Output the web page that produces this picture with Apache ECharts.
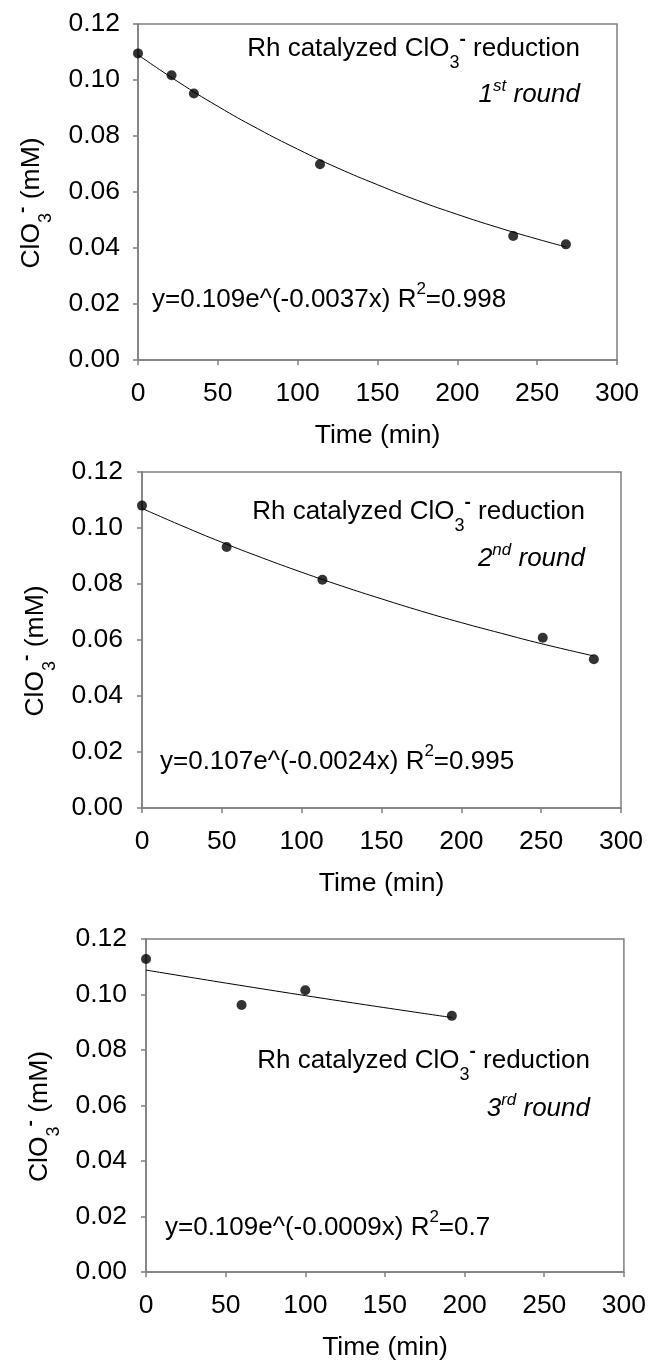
<!DOCTYPE html>
<html><head><meta charset="utf-8">
<script src="https://cdn.jsdelivr.net/npm/echarts@6/dist/echarts.min.js"></script>
<style>html,body{margin:0;padding:0;background:#fff}#c{width:649px;height:1362px}</style>
</head><body><div id="c"></div>
<script>
// ---- data ----
const round1Time = [0, 21, 35, 114, 235, 268];
const round1ClO3 = [0.1095, 0.1017, 0.0952, 0.0699, 0.0443, 0.0413];
const round1FitTime = [0, 25, 50, 75, 100, 125, 150, 175, 200, 225, 250, 268];
const round1FitClO3 = [0.1090, 0.0994, 0.0906, 0.0826, 0.0753, 0.0686, 0.0626, 0.0570, 0.0520, 0.0474, 0.0432, 0.0404];

const round2Time = [0, 53, 113, 251, 283];
const round2ClO3 = [0.1080, 0.0932, 0.0815, 0.0608, 0.0531];
const round2FitTime = [0, 25, 50, 75, 100, 125, 150, 175, 200, 225, 250, 283];
const round2FitClO3 = [0.1070, 0.1008, 0.0949, 0.0894, 0.0842, 0.0793, 0.0747, 0.0703, 0.0662, 0.0624, 0.0587, 0.0543];

const round3Time = [0, 60, 100, 192];
const round3ClO3 = [0.1128, 0.0962, 0.1015, 0.0923];
const round3FitTime = [0, 100, 192];
const round3FitClO3 = [0.1088, 0.0996, 0.0917];

const roundNumbers = ['1', '2', '3'];
const roundSuffixes = ['st', 'nd', 'rd'];
const fitA = ['0.109', '0.107', '0.109'];
const fitK = ['-0.0037', '-0.0024', '-0.0009'];
const fitR2 = ['0.998', '0.995', '0.7'];

const xMin = 0, xMax = 300, xStep = 50;
const yMin = 0, yMax = 0.12, yStep = 0.02;
const xTitle = 'Time (min)';

// ---- styling ----
const FF = '"Liberation Sans", Arial, Helvetica, sans-serif';
const AX = '#7f7f7f';
const FS = 26.5;
const RICH = {
  n:   {fontSize: 26, fontFamily: FF, color: '#000', fill: '#000', lineHeight: 30},
  i:   {fontSize: 26, fontFamily: FF, fontStyle: 'italic', color: '#000', fill: '#000', lineHeight: 30},
  sub: {fontSize: 18, fontFamily: FF, color: '#000', fill: '#000', lineHeight: 18, padding: [28, 0, 0, 0]},
  sup: {fontSize: 19, fontFamily: FF, fontWeight: 'bold', color: '#000', fill: '#000', lineHeight: 19, padding: [0, 0, 18, 0]},
  isup:{fontSize: 17, fontFamily: FF, fontStyle: 'italic', color: '#000', fill: '#000', lineHeight: 17, padding: [0, 0, 18, 0]},
  esup:{fontSize: 17, fontFamily: FF, color: '#000', fill: '#000', lineHeight: 17, padding: [0, 0, 22, 0]}
};
const RICH_AX = {
  n:   {fontSize: FS, fontFamily: FF, color: '#000', lineHeight: 30},
  sub: {fontSize: 18, fontFamily: FF, color: '#000', lineHeight: 18, padding: [28, 0, 0, 0]},
  sup: {fontSize: 19, fontFamily: FF, fontWeight: 'bold', color: '#000', lineHeight: 19, padding: [0, 0, 18, 0]}
};

const grids = [
  {left: 138, top: 24, width: 479, height: 336},
  {left: 142, top: 472, width: 479, height: 336},
  {left: 146, top: 939, width: 479, height: 336}
];
const yLabelMargin = [18, 19, 19];
const titlePos = [[580, 49, 95], [585, 512, 559], [590, 1061, 1109]];
const eqPos = [[152, 300], [160, 762], [165, 1228]];

const xAxes = grids.map((g, i) => ({
  type: 'value', gridIndex: i, min: xMin, max: xMax, interval: xStep,
  name: xTitle, nameLocation: 'middle', nameGap: 62,
  nameTextStyle: {fontSize: FS, fontFamily: FF, color: '#000'},
  axisLine: {show: true, onZero: false, lineStyle: {color: AX, width: 1.5}},
  axisTick: {show: true, inside: false, length: 5, lineStyle: {color: AX, width: 1.5}},
  axisLabel: {fontSize: FS, fontFamily: FF, color: '#000', margin: 20},
  splitLine: {show: false}
}));
const yAxes = grids.map((g, i) => ({
  type: 'value', gridIndex: i, min: yMin, max: yMax, interval: yStep,
  name: '{n|ClO}{sub|3}{sup|-}{n| (mM)}', nameLocation: 'middle', nameGap: 91, nameRotate: 90,
  nameTextStyle: {fontSize: FS, fontFamily: FF, color: '#000', rich: RICH_AX, padding: [0, 22, 0, 0]},
  axisLine: {show: true, onZero: false, lineStyle: {color: AX, width: 1.5}},
  axisTick: {show: true, inside: false, length: 5, lineStyle: {color: AX, width: 1.5}},
  axisLabel: {fontSize: FS, fontFamily: FF, color: '#000', margin: yLabelMargin[i], formatter: v => v.toFixed(2)},
  splitLine: {show: false}
}));

const pts = [[round1Time, round1ClO3], [round2Time, round2ClO3], [round3Time, round3ClO3]];
const fits = [[round1FitTime, round1FitClO3], [round2FitTime, round2FitClO3], [round3FitTime, round3FitClO3]];
const series = [];
pts.forEach((p, i) => {
  series.push({
    type: 'line', xAxisIndex: i, yAxisIndex: i, smooth: true, showSymbol: false, silent: true,
    data: fits[i][0].map((t, j) => [t, fits[i][1][j]]),
    lineStyle: {color: '#000', width: 1}, z: 2
  });
  series.push({
    type: 'scatter', xAxisIndex: i, yAxisIndex: i, symbol: 'circle', symbolSize: 10,
    data: p[0].map((t, j) => [t, p[1][j]]),
    itemStyle: {color: '#000'}, z: 3
  });
});

const graphic = [];
grids.forEach((g, i) => {
  graphic.push({type: 'text', x: titlePos[i][0], y: titlePos[i][1], style: {
    text: '{n|Rh catalyzed ClO}{sub|3}{sup|-}{n| reduction}', rich: RICH, align: 'right', verticalAlign: 'middle'}});
  graphic.push({type: 'text', x: titlePos[i][0], y: titlePos[i][2], style: {
    text: '{i|' + roundNumbers[i] + '}{isup|' + roundSuffixes[i] + '}{i| round}', rich: RICH, align: 'right', verticalAlign: 'middle'}});
  graphic.push({type: 'text', x: eqPos[i][0], y: eqPos[i][1], style: {
    text: '{n|y=' + fitA[i] + 'e^(' + fitK[i] + 'x) R}{esup|2}{n|=' + fitR2[i] + '}', rich: RICH, align: 'left', verticalAlign: 'middle'}});
});

const chart = echarts.init(document.getElementById('c'), null, {renderer: 'canvas'});
chart.setOption({
  backgroundColor: '#fff',
  animation: false,
  grid: grids.map(g => Object.assign({show: true, borderColor: AX, borderWidth: 1.5, backgroundColor: 'transparent'}, g)),
  xAxis: xAxes,
  yAxis: yAxes,
  series: series,
  graphic: graphic
});
</script></body></html>
